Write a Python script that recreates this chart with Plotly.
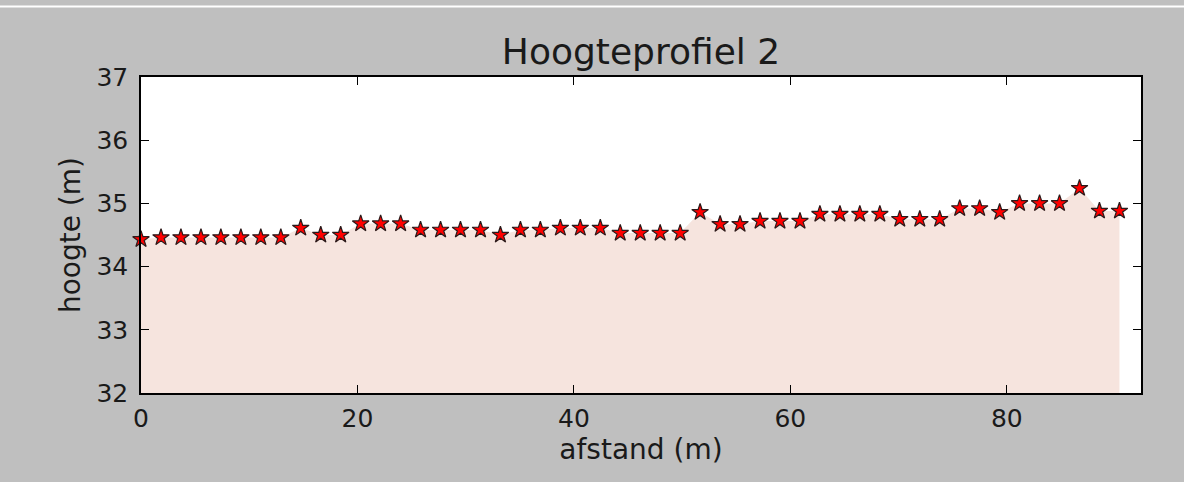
import plotly.graph_objects as go

# distance along profile (m)
afstand = [0.00, 1.85, 3.69, 5.54, 7.38, 9.23, 11.07, 12.92, 14.76, 16.61,
           18.45, 20.30, 22.14, 23.99, 25.83, 27.68, 29.52, 31.37, 33.21, 35.06,
           36.90, 38.75, 40.59, 42.44, 44.28, 46.13, 47.97, 49.82, 51.66, 53.51,
           55.35, 57.20, 59.04, 60.89, 62.73, 64.58, 66.42, 68.27, 70.11, 71.96,
           73.80, 75.65, 77.49, 79.34, 81.18, 83.03, 84.87, 86.72, 88.56, 90.41]
# height (m)
hoogte = [34.43, 34.46, 34.46, 34.46, 34.46, 34.46, 34.46, 34.46, 34.61, 34.50,
          34.50, 34.68, 34.68, 34.68, 34.58, 34.58, 34.58, 34.58, 34.50, 34.58,
          34.58, 34.61, 34.61, 34.61, 34.53, 34.53, 34.53, 34.53, 34.86, 34.67,
          34.67, 34.72, 34.72, 34.72, 34.83, 34.83, 34.83, 34.83, 34.75, 34.75,
          34.75, 34.92, 34.92, 34.86, 35.00, 35.00, 35.00, 35.24, 34.88, 34.88]

x_ticks = [0, 20, 40, 60, 80]
y_ticks = [32, 33, 34, 35, 36, 37]

FONT = "DejaVu Sans"
W, H = 1184, 482
ML, MR, MT, MB = 141, 43, 77, 89
PH = H - MT - MB

fig = go.Figure()
fig.add_trace(go.Scatter(
    x=afstand, y=hoogte, mode="lines", line=dict(width=0),
    fill="tozeroy", fillcolor="#f6e4de", hoverinfo="skip", showlegend=False))
fig.add_trace(go.Scatter(
    x=afstand, y=hoogte, mode="markers", showlegend=False,
    marker=dict(symbol="star", size=12.5, color="#ff0000",
                line=dict(color="#2a1a1a", width=1.2)), cliponaxis=False))

axis_common = dict(showgrid=False, zeroline=False, showline=True, linecolor="black",
                   linewidth=1.5, mirror="ticks", ticks="inside", ticklen=8,
                   tickcolor="black", tickwidth=1,
                   tickfont=dict(family=FONT, size=25, color="#1a1a1a"))

fig.update_xaxes(range=[0, 92.4], tickvals=x_ticks, ticktext=[str(v) for v in x_ticks],
                 ticklabelstandoff=2,
                 title=dict(text="afstand (m)", font=dict(family=FONT, size=28, color="#1a1a1a"),
                            standoff=2),
                 **axis_common)
fig.update_yaxes(range=[32, 37], tickvals=y_ticks, ticktext=[str(v) for v in y_ticks],
                 ticklabelstandoff=6,
                 title=dict(text="hoogte (m)", font=dict(family=FONT, size=28, color="#1a1a1a"),
                            standoff=8),
                 **axis_common)

fig.update_layout(
    width=W, height=H,
    margin=dict(l=ML, r=MR, t=MT, b=MB),
    paper_bgcolor="#bfbfbf", plot_bgcolor="white",
    title=dict(text="Hoogteprofiel 2", x=0.5, xref="paper", xanchor="center",
               y=1 - 51 / H, yanchor="middle",
               font=dict(family=FONT, size=36, color="#1a1a1a")),
    shapes=[
        dict(type="line", xref="paper", yref="paper", layer="below",
             x0=-ML / 1000, x1=(W - ML) / 1000, y0=1 + (MT - 6.5) / PH, y1=1 + (MT - 6.5) / PH,
             line=dict(color="white", width=2)),
    ],
)

fig.write_html("out.html", config={"displayModeBar": False},
               post_script="document.body.style.margin='0';document.body.style.background='#bfbfbf';")
